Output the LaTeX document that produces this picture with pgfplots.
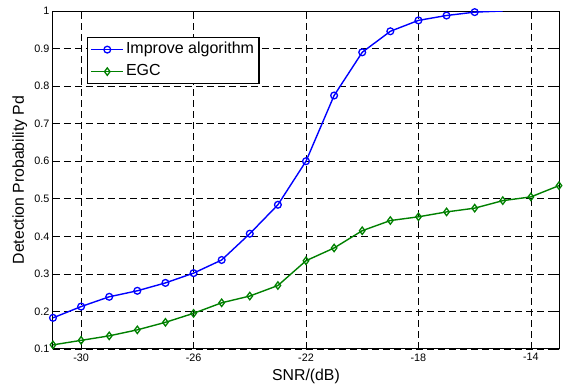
\documentclass[border=0pt]{standalone}
\usepackage{pgfplots}
\pgfplotsset{compat=1.18}
\usepackage{fontspec}
\setmainfont{Liberation Sans}
\definecolor{mblue}{RGB}{0,0,255}
\definecolor{mgreen}{RGB}{0,128,0}
\begin{document}
\begin{tikzpicture}
\begin{axis}[
  scale only axis, width=506pt, height=338pt,
  xmin=-31, xmax=-13, ymin=0.1, ymax=1,
  xtick={-30,-26,-22,-18,-14},
  ytick={0.1,0.2,0.3,0.4,0.5,0.6,0.7,0.8,0.9,1},
  /pgf/number format/assume math mode=true,
  yticklabel style={/pgf/number format/fixed,/pgf/number format/precision=1},
  tick label style={font=\fontsize{10.8}{12}\selectfont},
  xticklabel style={yshift=-1pt},
  xlabel={SNR/(dB)}, ylabel={Detection Probability Pd},
  every axis x label/.style={at={(axis description cs:0.5,-0.0592)}, anchor=north, inner sep=0pt, font=\fontsize{15.8}{18}\selectfont},
  every axis y label/.style={at={(axis description cs:-0.0508,0.5)}, rotate=90, anchor=south, inner sep=0pt, font=\fontsize{15.8}{18}\selectfont},
  grid=major,
  grid style={black, line width=0.75pt, dash pattern=on 7pt off 4pt},
  axis line style={black, line width=1pt},
  tick align=inside, major tick length=5pt,
  tick style={black, line width=0.75pt},
  legend style={at={(0.0672,0.923)}, anchor=north west, draw=black, line width=1.2pt,
    font=\fontsize{16}{18}\selectfont, inner sep=3pt, row sep=4pt,
    nodes={inner sep=2pt, text height=11pt, text depth=3pt}},
  legend cell align=left,
  legend image code/.code={\draw[#1, mark indices={2}] plot coordinates {(0pt,0pt) (16pt,0pt) (32pt,0pt)};},
  after end axis/.code={\path (rel axis cs:1,1) ++(7pt,11pt); \path (rel axis cs:0,0) ++(-53pt,-36pt);},
]
\addplot[mblue, line width=1.4pt, mark=o, mark size=3.4pt, mark options={line width=1.3pt}, mark indices={1,2,3,4,5,6,7,8,9,10,11,12,13,14,15,16}] coordinates {
(-31,0.183) (-30,0.213) (-29,0.239) (-28,0.255) (-27,0.276) (-26,0.302)
(-25,0.337) (-24,0.407) (-23,0.484) (-22,0.600) (-21,0.775) (-20,0.890)
(-19,0.946) (-18,0.975) (-17,0.988) (-16,0.997) (-15,1.000)
};
\addlegendentry{Improve algorithm}
\addplot[mgreen, line width=1.4pt, mark=diamond, mark size=3.7pt, mark options={line width=1.3pt}] coordinates {
(-31,0.111) (-30,0.123) (-29,0.135) (-28,0.151) (-27,0.171) (-26,0.195)
(-25,0.223) (-24,0.241) (-23,0.269) (-22,0.335) (-21,0.369) (-20,0.415)
(-19,0.442) (-18,0.452) (-17,0.465) (-16,0.475) (-15,0.495) (-14,0.505)
(-13,0.535)
};
\addlegendentry{EGC}
\end{axis}
\end{tikzpicture}
\end{document}
